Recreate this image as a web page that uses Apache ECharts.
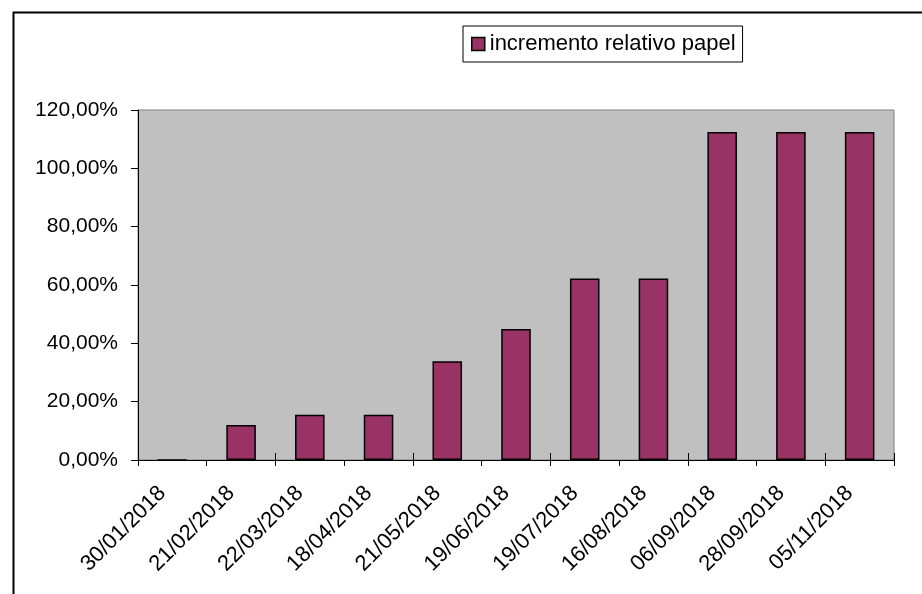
<!DOCTYPE html>
<html>
<head>
<meta charset="utf-8">
<script src="https://cdn.jsdelivr.net/npm/echarts@6/dist/echarts.min.js"></script>
<style>
html,body{margin:0;padding:0;background:#fff;}
#c{width:922px;height:594px;}
</style>
</head>
<body>
<div id="c"></div>
<script>
var categories = ['30/01/2018','21/02/2018','22/03/2018','18/04/2018','21/05/2018','19/06/2018','19/07/2018','16/08/2018','06/09/2018','28/09/2018','05/11/2018'];
var seriesName = 'incremento relativo papel';
var values = [0, 12.0, 15.5, 15.5, 33.9, 44.9, 62.2, 62.2, 112.5, 112.5, 112.5];
var yTicks = [0, 20, 40, 60, 80, 100, 120];

var FONT = '"Liberation Sans", Arial, sans-serif';
var chart = echarts.init(document.getElementById('c'));
chart.setOption({
  animation: false,
  textStyle: { fontFamily: FONT, color: '#000' },
  graphic: [{
    type: 'rect', left: 11, top: 10, silent: true,
    shape: { x: 0, y: 0, width: 1000, height: 700 },
    style: { fill: 'none', stroke: '#000', lineWidth: 2 }
  }],
  legend: {
    left: 463, top: 26,
    padding: [7, 7, 7, 8],
    borderColor: '#000', borderWidth: 1,
    backgroundColor: '#fff',
    itemWidth: 13, itemHeight: 13,
    icon: 'rect',
    itemStyle: { color: '#993366', borderColor: '#000', borderWidth: 1.5 },
    textStyle: { fontFamily: FONT, fontSize: 22, color: '#000' },
    data: [seriesName]
  },
  grid: {
    left: 138, right: 28, top: 110, bottom: 134,
    show: true, backgroundColor: '#c0c0c0', borderColor: '#808080', borderWidth: 1,
    containLabel: false
  },
  xAxis: [{
    type: 'category', data: categories,
    axisLine: { lineStyle: { color: '#000', width: 1 } },
    axisTick: { show: true, alignWithLabel: false, inside: false, length: 6, lineStyle: { color: '#000' } },
    axisLabel: { rotate: 45, margin: 20, padding: [0, 14, 0, 0], fontFamily: FONT, fontSize: 22, color: '#000', interval: 0 }
  }, {
    type: 'category', data: categories, position: 'bottom',
    axisLine: { show: false },
    axisTick: { show: true, inside: true, length: 7, lineStyle: { color: '#000' } },
    axisLabel: { show: false }
  }],
  yAxis: {
    type: 'value', min: yTicks[0], max: yTicks[yTicks.length - 1], interval: 20,
    splitLine: { show: false },
    axisLine: { show: true, lineStyle: { color: '#000', width: 1 } },
    axisTick: { show: true, length: 7, lineStyle: { color: '#000' } },
    axisLabel: {
      margin: 20, fontFamily: FONT, fontSize: 21, color: '#000',
      formatter: function (v) { return v.toFixed(2).replace('.', ',') + '%'; }
    }
  },
  series: [{
    name: seriesName, type: 'bar', data: values,
    barWidth: '43%',
    itemStyle: { color: '#993366', borderColor: '#000', borderWidth: 1.5 }
  }]
});
</script>
</body>
</html>
